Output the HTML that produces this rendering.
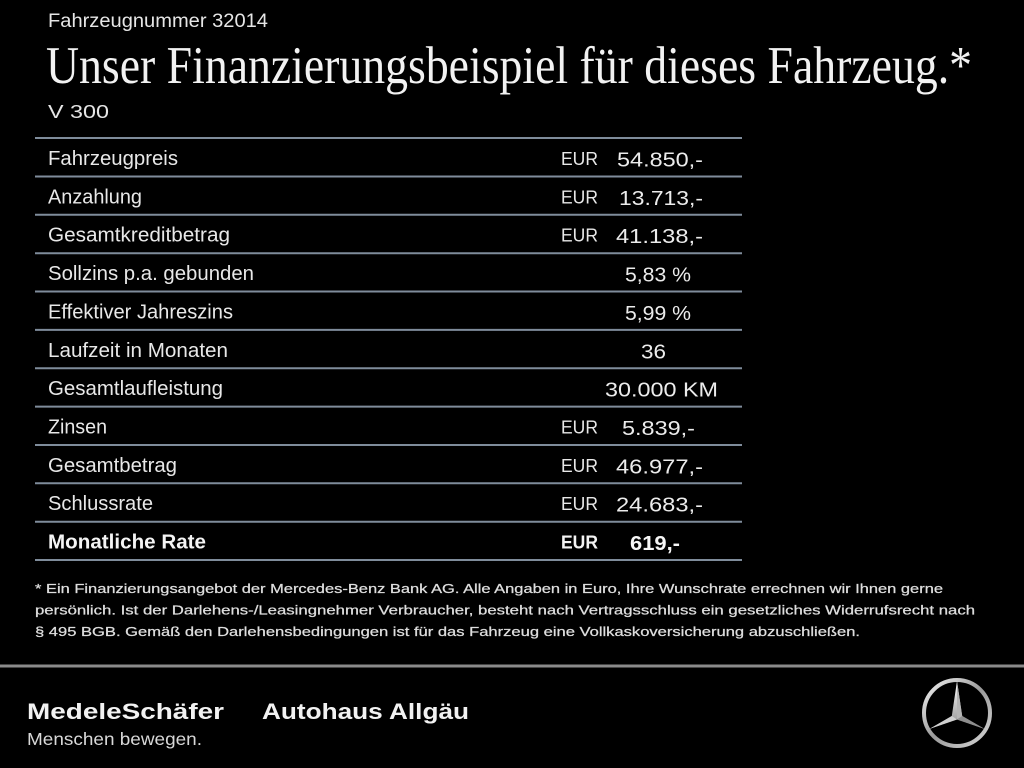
<!DOCTYPE html>
<html><head><meta charset="utf-8"><style>
html,body{margin:0;padding:0;background:#000;}
svg{display:block;}
</style></head><body>
<svg width="1024" height="768" viewBox="0 0 1024 768" xmlns="http://www.w3.org/2000/svg">
<defs>
<linearGradient id="silver" x1="0" y1="0" x2="1" y2="1">
<stop offset="0" stop-color="#f4f4f4"/>
<stop offset="0.5" stop-color="#9a9a9a"/>
<stop offset="1" stop-color="#d8d8d8"/>
</linearGradient>
<linearGradient id="silver2" x1="0" y1="0" x2="0" y2="1">
<stop offset="0" stop-color="#ffffff"/>
<stop offset="1" stop-color="#8c8c8c"/>
</linearGradient>
</defs>
<rect width="1024" height="768" fill="#000"/>

<g font-family="Liberation Sans, sans-serif" fill="#e6e6e6">
<text x="48" y="27" font-size="19" textLength="220" lengthAdjust="spacingAndGlyphs">Fahrzeugnummer 32014</text>
<text x="48" y="118" font-size="18" textLength="61" lengthAdjust="spacingAndGlyphs">V 300</text>
</g>
<text x="46" y="83" font-family="Liberation Serif, serif" font-size="53" fill="#f2f2f2" textLength="926" lengthAdjust="spacingAndGlyphs">Unser Finanzierungsbeispiel für dieses Fahrzeug.*</text>

<g stroke="#7f8c9b" stroke-width="2">
<line x1="35" y1="138" x2="742" y2="138"/>
<line x1="35" y1="176.5" x2="742" y2="176.5"/>
<line x1="35" y1="214.8" x2="742" y2="214.8"/>
<line x1="35" y1="253.2" x2="742" y2="253.2"/>
<line x1="35" y1="291.5" x2="742" y2="291.5"/>
<line x1="35" y1="329.9" x2="742" y2="329.9"/>
<line x1="35" y1="368.3" x2="742" y2="368.3"/>
<line x1="35" y1="406.6" x2="742" y2="406.6"/>
<line x1="35" y1="445" x2="742" y2="445"/>
<line x1="35" y1="483.3" x2="742" y2="483.3"/>
<line x1="35" y1="521.7" x2="742" y2="521.7"/>
<line x1="35" y1="560" x2="742" y2="560"/>
</g>

<g font-family="Liberation Sans, sans-serif" fill="#e8e8e8" font-size="20.5">
<text x="48" y="165" textLength="130" lengthAdjust="spacingAndGlyphs">Fahrzeugpreis</text>
<text x="48" y="203.4" textLength="94" lengthAdjust="spacingAndGlyphs">Anzahlung</text>
<text x="48" y="241.7" textLength="182" lengthAdjust="spacingAndGlyphs">Gesamtkreditbetrag</text>
<text x="48" y="280.1" textLength="206" lengthAdjust="spacingAndGlyphs">Sollzins p.a. gebunden</text>
<text x="48" y="318.4" textLength="185" lengthAdjust="spacingAndGlyphs">Effektiver Jahreszins</text>
<text x="48" y="356.8" textLength="180" lengthAdjust="spacingAndGlyphs">Laufzeit in Monaten</text>
<text x="48" y="395.2" textLength="175" lengthAdjust="spacingAndGlyphs">Gesamtlaufleistung</text>
<text x="48" y="433.5" textLength="59" lengthAdjust="spacingAndGlyphs">Zinsen</text>
<text x="48" y="471.9" textLength="129" lengthAdjust="spacingAndGlyphs">Gesamtbetrag</text>
<text x="48" y="510.2" textLength="105" lengthAdjust="spacingAndGlyphs">Schlussrate</text>
<text x="48" y="548.6" textLength="158" lengthAdjust="spacingAndGlyphs" font-weight="bold" fill="#f4f4f4">Monatliche Rate</text>
</g>

<g font-family="Liberation Sans, sans-serif" fill="#e8e8e8" font-size="18">
<text x="561" y="165" textLength="37" lengthAdjust="spacingAndGlyphs">EUR</text>
<text x="561" y="203.4" textLength="37" lengthAdjust="spacingAndGlyphs">EUR</text>
<text x="561" y="241.7" textLength="37" lengthAdjust="spacingAndGlyphs">EUR</text>
<text x="561" y="433.5" textLength="37" lengthAdjust="spacingAndGlyphs">EUR</text>
<text x="561" y="471.9" textLength="37" lengthAdjust="spacingAndGlyphs">EUR</text>
<text x="561" y="510.2" textLength="37" lengthAdjust="spacingAndGlyphs">EUR</text>
<text x="561" y="548.6" textLength="37" lengthAdjust="spacingAndGlyphs" font-weight="bold" fill="#f4f4f4">EUR</text>
</g>

<g font-family="Liberation Sans, sans-serif" fill="#ececec" font-size="20.5">
<text x="617" y="166.5" textLength="86" lengthAdjust="spacingAndGlyphs">54.850,-</text>
<text x="619" y="204.9" textLength="84" lengthAdjust="spacingAndGlyphs">13.713,-</text>
<text x="616" y="243.2" textLength="87" lengthAdjust="spacingAndGlyphs">41.138,-</text>
<text x="625" y="281.6" textLength="66" lengthAdjust="spacingAndGlyphs">5,83 %</text>
<text x="625" y="319.9" textLength="66" lengthAdjust="spacingAndGlyphs">5,99 %</text>
<text x="641" y="358.3" textLength="25" lengthAdjust="spacingAndGlyphs">36</text>
<text x="605" y="396.7" textLength="113" lengthAdjust="spacingAndGlyphs">30.000 KM</text>
<text x="622" y="435" textLength="73" lengthAdjust="spacingAndGlyphs">5.839,-</text>
<text x="616" y="473.4" textLength="87" lengthAdjust="spacingAndGlyphs">46.977,-</text>
<text x="616" y="511.7" textLength="87" lengthAdjust="spacingAndGlyphs">24.683,-</text>
<text x="630" y="550.1" textLength="50" lengthAdjust="spacingAndGlyphs" font-weight="bold" fill="#f6f6f6">619,-</text>
</g>

<g font-family="Liberation Sans, sans-serif" fill="#dedede" font-size="13" stroke="#dedede" stroke-width="0.25">
<text x="35" y="593" textLength="908" lengthAdjust="spacingAndGlyphs">* Ein Finanzierungsangebot der Mercedes-Benz Bank AG. Alle Angaben in Euro, Ihre Wunschrate errechnen wir Ihnen gerne</text>
<text x="35" y="614.5" textLength="940" lengthAdjust="spacingAndGlyphs">persönlich. Ist der Darlehens-/Leasingnehmer Verbraucher, besteht nach Vertragsschluss ein gesetzliches Widerrufsrecht nach</text>
<text x="35" y="636" textLength="825" lengthAdjust="spacingAndGlyphs">§ 495 BGB. Gemäß den Darlehensbedingungen ist für das Fahrzeug eine Vollkaskoversicherung abzuschließen.</text>
</g>

<rect x="0" y="664.5" width="1024" height="3" fill="#8a8a8a"/>

<g font-family="Liberation Sans, sans-serif" fill="#f2f2f2" font-weight="bold" font-size="22">
<text x="27" y="719" textLength="197" lengthAdjust="spacingAndGlyphs">MedeleSchäfer</text>
<text x="262" y="719" textLength="207" lengthAdjust="spacingAndGlyphs">Autohaus Allgäu</text>
</g>
<text x="27" y="745" font-family="Liberation Sans, sans-serif" font-size="17.5" fill="#d8d8d8" textLength="175" lengthAdjust="spacingAndGlyphs">Menschen bewegen.</text>

<g>
<circle cx="957" cy="713" r="33" fill="none" stroke="url(#silver)" stroke-width="4"/>
<polygon points="957,681 962.2,716 984.7,729 957,719.5 929.3,729 951.8,716" fill="url(#silver2)"/>
<polygon points="957,681 962.2,716 957,719.5" fill="#b5b5b5"/>
<polygon points="957,719.5 984.7,729 962.2,716" fill="#8e8e8e"/>
<polygon points="957,719.5 929.3,729 951.8,716" fill="#d0d0d0"/>
</g>
</svg>
</body></html>
